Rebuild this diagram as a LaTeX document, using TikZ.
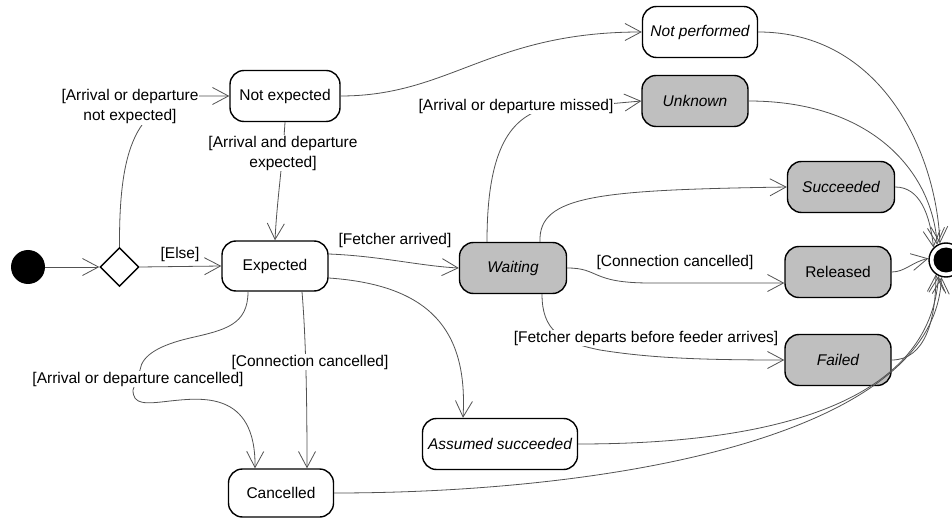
\documentclass[tikz,border=0pt]{standalone}
\usepackage{fontspec}
\setmainfont{Liberation Sans}
\usetikzlibrary{arrows.meta,shapes.geometric,calc}
\begin{document}
\begin{tikzpicture}[x=1pt,y=-1pt,
  state/.style={draw=black, line width=1.4pt, rounded corners=14pt, minimum height=51pt, inner sep=0pt, font=\fontsize{15.5}{19}\selectfont, fill=white},
  greybox/.style={fill=black!25},
  ital/.style={font=\fontsize{15.5}{19}\selectfont\itshape},
  conn/.style={draw=black!68, line width=0.8pt, -{Straight Barb[length=16pt,width=17pt,line width=0.8pt]}},
  lbl/.style={font=\fontsize{15.5}{20}\selectfont, inner sep=1pt, align=center},
  lblw/.style={lbl, fill=white},
]
\useasboundingbox (0,0) rectangle (952,518);
\fill[white] (0,0) rectangle (952,518);

% states
\node[circle, fill=black, minimum size=34pt, inner sep=0pt] (init) at (28,267) {};
\node[diamond, draw=black, line width=1.4pt, minimum width=39pt, minimum height=39pt, inner sep=0pt, aspect=1, fill=white] (dec) at (119.5,267) {};
\node[state, minimum width=110pt] (ne) at (285,96) {Not expected};
\node[state, minimum width=106pt, minimum height=50pt] (exp) at (275,266) {Expected};
\node[state, ital, minimum width=115pt] (np) at (700,32) {Not performed};
\node[state, greybox, ital, minimum width=106pt] (unk) at (695,101) {Unknown};
\node[state, greybox, ital, minimum width=107pt] (wait) at (513,268) {Waiting};
\node[state, greybox, ital, minimum width=107pt] (succ) at (841,187) {Succeeded};
\node[state, greybox, minimum width=106pt] (rel) at (838,272) {Released};
\node[state, greybox, ital, minimum width=106pt] (fail) at (838,360) {Failed};
\node[state, ital, minimum width=155pt] (ass) at (500,444) {Assumed succeeded};
\node[state, minimum width=105pt, minimum height=48pt] (canc) at (281,493) {Cancelled};
\node[circle, draw=black, line width=1.4pt, minimum size=34pt, inner sep=0pt, fill=white] (fin) at (946,260) {};
\node[circle, fill=black, minimum size=25pt, inner sep=0pt] (fininner) at (fin) {};

% connectors
\draw[conn] (init.east) -- (dec.west);
\draw[conn] (dec.east) -- (exp.west);
\draw[conn] (dec.north) .. controls (119,150) and (135,100) .. (200,96) -- (ne.west);
\draw[conn] (ne.south) .. controls (282,170) and (277,200) .. (exp.north);
\draw[conn] (ne.east) .. controls (450,96) and (490,32) .. (np.west);
\draw[conn] ($(exp.east)+(0,-12)$) .. controls (380,256) and (420,266) .. (wait.west);
\draw[conn] ($(exp.east)+(0,12)$) .. controls (430,285) and (468,330) .. ($(ass.north)+(-37,0)$);
\draw[conn] ($(exp.south)+(-27,0)$) .. controls (248,325) and (225,330) .. (190,338)
  .. controls (160,345) and (142,355) .. (140,370) -- (133,390)
  .. controls (133,405) and (145,404) .. (170,401)
  .. controls (200,398) and (256,390) .. ($(canc.north)+(-26,0)$);
\draw[conn] ($(exp.south)+(27,0)$) .. controls (306,340) and (307,400) .. ($(canc.north)+(26,0)$);
\draw[conn] ($(wait.north)+(-26,0)$) .. controls (487,160) and (505,122) .. (540,110) -- (unk.west);
\draw[conn] ($(wait.north)+(27,0)$) .. controls (538,195) and (600,190) .. (succ.west);
\draw[conn] (wait.east) .. controls (600,268) and (590,283) .. (650,283) -- ($(rel.west)+(0,11)$);
\draw[conn] ($(wait.south)+(29,0)$) .. controls (542,330) and (560,342) .. (600,350)
  .. controls (650,358) and (700,360) .. (fail.west);
\draw[conn] (np.east) .. controls (880,32) and (936,150) .. (fin.110);
\draw[conn] (unk.east) .. controls (870,101) and (932,170) .. (fin.120);
\draw[conn] (succ.east) .. controls (920,187) and (930,215) .. (fin.135);
\draw[conn] (rel.east) .. controls (905,272) and (912,262) .. (fin.175);
\draw[conn] (fail.east) .. controls (925,360) and (936,320) .. (fin.235);
\draw[conn] (ass.east) .. controls (780,444) and (930,400) .. (fin.245);
\draw[conn] (canc.east) .. controls (600,493) and (935,440) .. (fin.255);

% labels
\node[lblw] (l1) at (130,106.5) {[Arrival or departure\\not expected]};
\node[lbl] (l2) at (180,254) {[Else]};
\node[lblw] (l3) at (283,153) {[Arrival and departure\\expected]};
\node[lbl] (l4) at (395,240) {[Fetcher arrived]};
\node[lblw] (l5) at (516,106) {[Arrival or departure missed]};
\node[lbl] (l6) at (675,262) {[Connection cancelled]};
\node[lblw] (l7) at (646,338) {[Fetcher departs before feeder arrives]};
\node[lblw] (l8) at (138,379) {[Arrival or departure cancelled]};
\node[lblw] (l9) at (310,362) {[Connection cancelled]};
\end{tikzpicture}
\end{document}
